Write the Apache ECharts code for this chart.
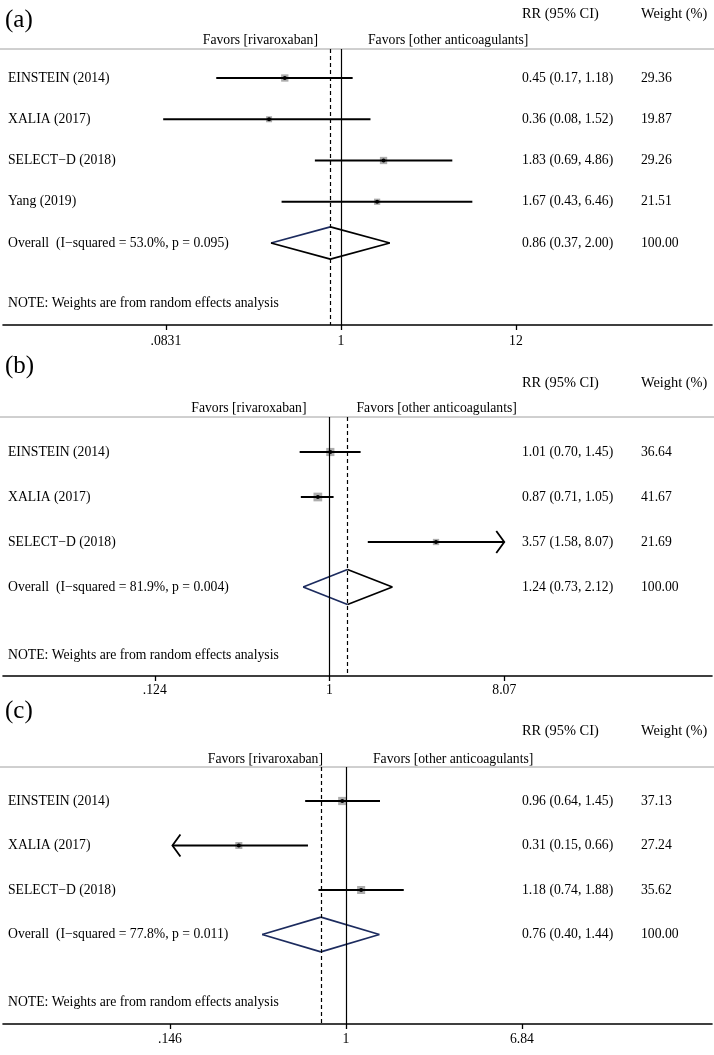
<!DOCTYPE html>
<html><head><meta charset="utf-8">
<script src="https://cdn.jsdelivr.net/npm/echarts@6/dist/echarts.min.js"></script>
<style>html,body{margin:0;padding:0;background:#fff}#chart{width:714px;height:1055px}</style>
</head><body><div id="chart"></div>
<script>
// ---------- DATA ----------
const panelTags = ['(a)', '(b)', '(c)'];

const studiesA = ['EINSTEIN (2014)', 'XALIA (2017)', 'SELECT\u2212D (2018)', 'Yang (2019)'];
const rrA = [0.45, 0.36, 1.83, 1.67];
const loA = [0.17, 0.08, 0.69, 0.43];
const hiA = [1.18, 1.52, 4.86, 6.46];
const weightA = [29.36, 19.87, 29.26, 21.51];
const arrowA = [0, 0, 0, 0];
const overallA = [0.86, 0.37, 2.00];
const hetA = 'I\u2212squared = 53.0%, p = 0.095';
const ticksA = [0.0831, 1, 12];
const tickTextA = ['.0831', '1', '12'];

const studiesB = ['EINSTEIN (2014)', 'XALIA (2017)', 'SELECT\u2212D (2018)'];
const rrB = [1.01, 0.87, 3.57];
const loB = [0.70, 0.71, 1.58];
const hiB = [1.45, 1.05, 8.07];
const weightB = [36.64, 41.67, 21.69];
const arrowB = [0, 0, 1];
const overallB = [1.24, 0.73, 2.12];
const hetB = 'I\u2212squared = 81.9%, p = 0.004';
const ticksB = [0.124, 1, 8.07];
const tickTextB = ['.124', '1', '8.07'];

const studiesC = ['EINSTEIN (2014)', 'XALIA (2017)', 'SELECT\u2212D (2018)'];
const rrC = [0.96, 0.31, 1.18];
const loC = [0.64, 0.15, 0.74];
const hiC = [1.45, 0.66, 1.88];
const weightC = [37.13, 27.24, 35.62];
const arrowC = [0, -1, 0];
const overallC = [0.76, 0.40, 1.44];
const hetC = 'I\u2212squared = 77.8%, p = 0.011';
const ticksC = [0.146, 1, 6.84];
const tickTextC = ['.146', '1', '6.84'];

const headerRR = 'RR (95% CI)';
const headerW = 'Weight (%)';
const favorsLeft = 'Favors [rivaroxaban]';
const favorsRight = 'Favors [other anticoagulants]';
const noteText = 'NOTE: Weights are from random effects analysis';
const overallWeight = '100.00';

// ---------- LAYOUT (pixels) ----------
const FONT = 'Liberation Serif';
const FS = 13.7;
const FSH = 14.4;
const NAVY = '#1c2b5e';
const layout = [
  {tag: 20, head: 14, favors: 40, line: 49, row0: 78, rowSp: 41.25, note: 303, axis: 325, lblMargin: 9,
   oneX: 341, pxPerLn: 70.4, diamond: [NAVY, '#000', '#000', '#000']},
  {tag: 366, head: 383, favors: 408.5, line: 417, row0: 452, rowSp: 45, note: 655, axis: 676, lblMargin: 7,
   oneX: 329.5, pxPerLn: 83.7, diamond: [NAVY, '#000', '#000', NAVY]},
  {tag: 711, head: 731, favors: 759, line: 767, row0: 801, rowSp: 44.5, note: 1002, axis: 1024, lblMargin: 8,
   oneX: 346, pxPerLn: 91.5, diamond: [NAVY, NAVY, NAVY, NAVY]}
];
const GL = 3, GR = 712, W = 714;
const X_RR = 522, X_W = 641, X_NAME = 8;

const panels = [
  {studies: studiesA, rr: rrA, lo: loA, hi: hiA, w: weightA, arrows: arrowA, overall: overallA, het: hetA, ticks: ticksA, tickText: tickTextA},
  {studies: studiesB, rr: rrB, lo: loB, hi: hiB, w: weightB, arrows: arrowB, overall: overallB, het: hetB, ticks: ticksB, tickText: tickTextB},
  {studies: studiesC, rr: rrC, lo: loC, hi: hiC, w: weightC, arrows: arrowC, overall: overallC, het: hetC, ticks: ticksC, tickText: tickTextC}
];

const fmt = v => v.toFixed(2);

const grid = [], xAxis = [], yAxis = [], series = [], graphic = [];

panels.forEach((p, k) => {
  const L = layout[k];
  const n = p.studies.length;
  grid.push({left: GL, width: GR - GL, top: L.line, height: L.axis - L.line});
  xAxis.push({
    type: 'log', gridIndex: k, logBase: 10,
    min: Math.exp((GL - L.oneX) / L.pxPerLn),
    max: Math.exp((GR - L.oneX) / L.pxPerLn),
    axisLine: {show: true, onZero: false, lineStyle: {color: '#000', width: 1.6}},
    axisTick: {show: true, customValues: p.ticks, length: 5, inside: false, lineStyle: {color: '#000', width: 1.3}},
    axisLabel: {show: true, customValues: p.ticks, margin: L.lblMargin, color: '#000', fontFamily: FONT, fontSize: FS,
      formatter: v => {
        let best = 0;
        p.ticks.forEach((t, i) => { if (Math.abs(Math.log(t) - Math.log(v)) < Math.abs(Math.log(p.ticks[best]) - Math.log(v))) best = i; });
        return p.tickText[best];
      }},
    splitLine: {show: false}, minorTick: {show: false}, minorSplitLine: {show: false}
  });
  yAxis.push({
    type: 'value', gridIndex: k, inverse: true, show: false,
    min: (L.line - L.row0) / L.rowSp, max: (L.axis - L.row0) / L.rowSp,
    splitLine: {show: false}
  });

  // study CIs, boxes, points, arrows
  series.push({
    type: 'custom', xAxisIndex: k, yAxisIndex: k, silent: true, clip: false,
    data: p.studies.map((s, i) => [p.rr[i], p.lo[i], p.hi[i], i, p.w[i], p.arrows[i]]),
    encode: {x: [0, 1, 2], y: 3},
    renderItem: (params, api) => {
      const row = api.value(3);
      const pE = api.coord([api.value(0), row]);
      const pL = api.coord([api.value(1), row]);
      const pH = api.coord([api.value(2), row]);
      const side = 1.35 * Math.sqrt(api.value(4));
      const y = pE[1];
      const ch = [
        {type: 'rect', shape: {x: pE[0] - side / 2, y: y - side / 2, width: side, height: side}, style: {fill: '#adadad'}},
        {type: 'line', shape: {x1: pL[0], y1: y, x2: pH[0], y2: y}, style: {stroke: '#000', lineWidth: 2}},
        {type: 'circle', shape: {cx: pE[0], cy: y, r: 2}, style: {fill: '#000'}}
      ];
      const a = api.value(5);
      if (a === 1) ch.push({type: 'polyline', shape: {points: [[pH[0] - 8, y - 11], [pH[0], y], [pH[0] - 8, y + 11]]}, style: {stroke: '#000', lineWidth: 1.8, fill: null}});
      if (a === -1) ch.push({type: 'polyline', shape: {points: [[pL[0] + 8, y - 11], [pL[0], y], [pL[0] + 8, y + 11]]}, style: {stroke: '#000', lineWidth: 1.8, fill: null}});
      return {type: 'group', children: ch};
    }
  });

  // overall diamond + reference lines
  series.push({
    type: 'custom', xAxisIndex: k, yAxisIndex: k, silent: true, clip: false,
    data: [[p.overall[0], p.overall[1], p.overall[2], n]],
    encode: {x: [0, 1, 2], y: 3},
    renderItem: (params, api) => {
      const row = api.value(3);
      const pE = api.coord([api.value(0), row]);
      const pL = api.coord([api.value(1), row]);
      const pH = api.coord([api.value(2), row]);
      const h = api.size([0, 1])[1] * 0.39;
      const y = pE[1];
      const top = [pE[0], y - h], bot = [pE[0], y + h], lft = [pL[0], y], rgt = [pH[0], y];
      const segs = [[lft, top], [top, rgt], [rgt, bot], [bot, lft]];
      return {type: 'group', children: segs.map((s, i) => ({
        type: 'line', shape: {x1: s[0][0], y1: s[0][1], x2: s[1][0], y2: s[1][1]},
        style: {stroke: L.diamond[i], lineWidth: 1.7}
      }))};
    },
    markLine: {
      silent: true, symbol: 'none', label: {show: false},
      data: [
        {xAxis: 1, lineStyle: {color: '#000', width: 1.2, type: 'solid'}},
        {xAxis: p.overall[0], lineStyle: {color: '#000', width: 1.2, type: [4, 3]}}
      ]
    }
  });

  // text columns
  series.push({
    type: 'custom', xAxisIndex: k, yAxisIndex: k, silent: true, clip: false,
    data: p.studies.map((s, i) => [1, i]).concat([[1, n]]),
    encode: {x: 0, y: 1},
    renderItem: (params, api) => {
      const i = params.dataIndex;
      const y = api.coord([1, api.value(1)])[1];
      let name, rrs, ws;
      if (i < n) {
        name = p.studies[i];
        rrs = fmt(p.rr[i]) + ' (' + fmt(p.lo[i]) + ', ' + fmt(p.hi[i]) + ')';
        ws = fmt(p.w[i]);
      } else {
        name = 'Overall  (' + p.het + ')';
        rrs = fmt(p.overall[0]) + ' (' + fmt(p.overall[1]) + ', ' + fmt(p.overall[2]) + ')';
        ws = overallWeight;
      }
      const st = (t, x) => ({type: 'text', style: {text: t, x: x, y: y, fill: '#000', fontFamily: FONT, fontSize: FS, align: 'left', verticalAlign: 'middle'}});
      return {type: 'group', children: [st(name, X_NAME), st(rrs, X_RR), st(ws, X_W)]};
    }
  });

  // favors labels around the null line
  series.push({
    type: 'custom', xAxisIndex: k, yAxisIndex: k, silent: true, clip: false,
    data: [[1, 0]],
    encode: {x: 0, y: 1},
    renderItem: (params, api) => {
      const x = api.coord([1, 0])[0];
      const y = L.favors;
      return {type: 'group', children: [
        {type: 'text', style: {text: favorsLeft, x: x - 23, y: y, fill: '#000', fontFamily: FONT, fontSize: FS, align: 'right', verticalAlign: 'middle'}},
        {type: 'text', style: {text: favorsRight, x: x + 27, y: y, fill: '#000', fontFamily: FONT, fontSize: FS, align: 'left', verticalAlign: 'middle'}}
      ]};
    }
  });

  graphic.push(
    {type: 'line', shape: {x1: 0, y1: L.line, x2: W, y2: L.line}, style: {stroke: '#a0a0a0', lineWidth: 1}, silent: true},
    {type: 'text', x: 5, y: L.tag, style: {text: panelTags[k], fill: '#000', fontFamily: FONT, fontSize: 25, align: 'left', verticalAlign: 'middle'}, silent: true},
    {type: 'text', x: X_RR, y: L.head, style: {text: headerRR, fill: '#000', fontFamily: FONT, fontSize: FSH, align: 'left', verticalAlign: 'middle'}, silent: true},
    {type: 'text', x: X_W, y: L.head, style: {text: headerW, fill: '#000', fontFamily: FONT, fontSize: FSH, align: 'left', verticalAlign: 'middle'}, silent: true},
    {type: 'text', x: X_NAME, y: L.note, style: {text: noteText, fill: '#000', fontFamily: FONT, fontSize: FS, align: 'left', verticalAlign: 'middle'}, silent: true}
  );
});

const chart = echarts.init(document.getElementById('chart'), null, {renderer: 'canvas'});
chart.setOption({
  animation: false,
  backgroundColor: '#fff',
  grid, xAxis, yAxis, series, graphic
});
</script>
</body></html>
